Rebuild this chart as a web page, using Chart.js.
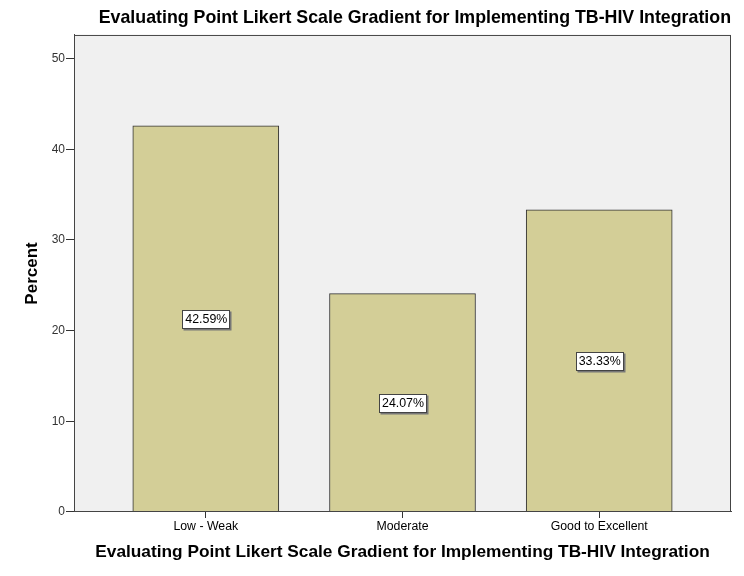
<!DOCTYPE html>
<html>
<head>
<meta charset="utf-8">
<script src="https://cdn.jsdelivr.net/npm/chart.js@4"></script>
<style>
    html, body { margin: 0; padding: 0; background: #fff; }
    #box { width: 744px; height: 576px; }
</style>
</head>
<body>
<div id="box"><canvas id="chart"></canvas></div>
<script>
const title = 'Evaluating Point Likert Scale Gradient for Implementing TB-HIV Integration';
const categories = ['Low - Weak', 'Moderate', 'Good to Excellent'];
const percents = [42.59, 24.07, 33.33];
const yTicks = [0, 10, 20, 30, 40, 50];

const FONT = '"Liberation Sans", Arial, sans-serif';

// grey plot background and dark frame around it
const frame = {
    id: 'frame',
    beforeDatasetsDraw(chart) {
        const { ctx, chartArea: a } = chart;
        ctx.save();
        ctx.fillStyle = '#f0f0f0';
        ctx.fillRect(a.left, a.top, a.right - a.left, a.bottom - a.top);
        ctx.restore();
    },
    afterDatasetsDraw(chart) {
        const { ctx, chartArea: a } = chart;
        ctx.save();
        ctx.strokeStyle = '#444';
        ctx.lineWidth = 1;
        ctx.strokeRect(a.left + 0.5, a.top + 0.5, a.right - a.left - 1, a.bottom - a.top - 1);
        ctx.restore();
    }
};

// white boxed value labels at mid height of each bar
const valueBoxes = {
    id: 'valueBoxes',
    afterDatasetsDraw(chart) {
        const { ctx } = chart;
        const meta = chart.getDatasetMeta(0);
        ctx.save();
        ctx.font = '12.4px ' + FONT;
        ctx.textAlign = 'center';
        ctx.textBaseline = 'middle';
        meta.data.forEach((bar, i) => {
            const text = percents[i].toFixed(2) + '%';
            const y = (bar.y + bar.base) / 2;
            const w = Math.round(ctx.measureText(text).width + 5);
            const h = 18;
            const x0 = Math.round(bar.x - w / 2) + 0.5;
            const y0 = Math.round(y - h / 2) + 0.5;
            ctx.fillStyle = '#777';
            ctx.fillRect(x0 + 1, y0 + 1, w + 1, h + 1);
            ctx.fillStyle = '#fff';
            ctx.fillRect(x0, y0, w, h);
            ctx.strokeStyle = '#444';
            ctx.lineWidth = 1;
            ctx.strokeRect(x0, y0, w, h);
            ctx.fillStyle = '#000';
            ctx.fillText(text, bar.x + 0.5, y + 1);
        });
        ctx.restore();
    }
};

new Chart(document.getElementById('chart'), {
    type: 'bar',
    data: {
        datasets: [{
            data: categories.map((c, i) => ({ x: i, y: percents[i] })),
            backgroundColor: '#d3ce97',
            borderColor: '#333',
            borderWidth: 1,
            barThickness: 146
        }]
    },
    options: {
        responsive: true,
        maintainAspectRatio: false,
        animation: false,
        layout: { padding: { left: 0, right: 13, top: 0, bottom: 0 } },
        plugins: {
            legend: { display: false },
            tooltip: { enabled: false },
            title: {
                display: true,
                text: title,
                align: 'end',
                color: '#000',
                font: { family: FONT, size: 17.8, weight: 'bold' },
                padding: { top: 7, bottom: 6.6 }
            }
        },
        scales: {
            x: {
                type: 'linear',
                offset: false,
                min: -0.67,
                max: 2.67,
                afterBuildTicks: s => { s.ticks = categories.map((c, i) => ({ value: i })); },
                afterFit: s => { s.height = 64; },
                ticks: {
                    callback: v => categories[v],
                    color: '#000',
                    font: { family: FONT, size: 12.3 },
                    padding: 1,
                    maxRotation: 0
                },
                grid: { drawOnChartArea: false, offset: false, tickLength: 6, color: '#333' },
                border: { color: '#444' },
                title: {
                    display: true,
                    text: title,
                    color: '#000',
                    font: { family: FONT, size: 17.3, weight: 'bold' },
                    padding: { top: 13, bottom: 13 }
                }
            },
            y: {
                min: 0,
                max: 52.6,
                afterBuildTicks: s => { s.ticks = yTicks.map(v => ({ value: v })); },
                afterFit: s => { s.width = 74; },
                ticks: {
                    color: '#333',
                    font: { family: FONT, size: 12 },
                    padding: 1
                },
                grid: { drawOnChartArea: false, tickLength: 8, color: '#333' },
                border: { color: '#444' },
                title: {
                    display: true,
                    text: 'Percent',
                    color: '#000',
                    font: { family: FONT, size: 17, weight: 'bold' },
                    padding: { top: 22, bottom: 22 }
                }
            }
        }
    },
    plugins: [frame, valueBoxes]
});
</script>
</body>
</html>
